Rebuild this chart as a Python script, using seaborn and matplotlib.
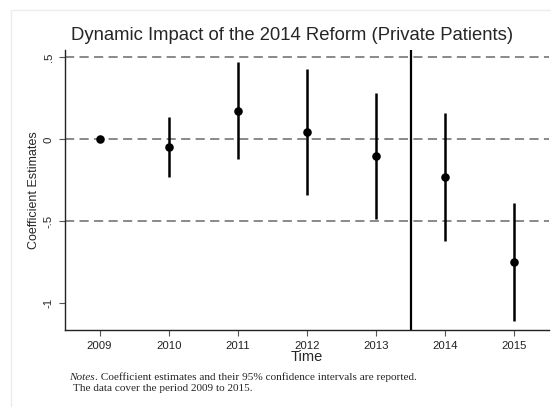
import matplotlib
matplotlib.use("Agg")
import matplotlib.pyplot as plt
from matplotlib.lines import Line2D
import seaborn as sns
import pandas as pd

# Event-study coefficients with 95% confidence bounds
years = [2009, 2010, 2011, 2012, 2013, 2014, 2015]
coef = [0.0, -0.045, 0.173, 0.046, -0.102, -0.228, -0.75]
ci_low = [0.0, -0.232, -0.12, -0.34, -0.488, -0.618, -1.106]
ci_high = [0.0, 0.138, 0.469, 0.427, 0.28, 0.159, -0.386]
ytick_vals = [-1, -0.5, 0, 0.5]
ytick_labels = ["-1", "-.5", "0", ".5"]
ref_lines = [-0.5, 0, 0.5]
reform_break = 2013.5

df = pd.DataFrame({"year": years, "coef": coef, "lo": ci_low, "hi": ci_high})

sns.set_style("white")
plt.rcParams["font.family"] = ["Liberation Sans", "DejaVu Sans"]

fig = plt.figure(figsize=(5.51, 4.07), dpi=100)
ax = fig.add_axes([65 / 551, 1 - 330 / 407, (549 - 65) / 551, (330 - 50) / 407])

for v in ref_lines:
    ax.axhline(v, color="#6a6a6a", lw=1.1, ls=(0, (6, 3.5)), zorder=1)

ax.vlines(df["year"], df["lo"], df["hi"], color="black", lw=1.8, zorder=2)
sns.scatterplot(data=df, x="year", y="coef", ax=ax, color="black", s=38,
                edgecolor="black", linewidth=0, zorder=3, legend=False)
ax.axvline(reform_break, color="black", lw=1.6, zorder=2)

ax.set_xlim(2008.5, 2015.5)
ax.set_ylim(-1.163, 0.545)
ax.set_xticks(years)
ax.set_xticklabels([str(y) for y in years], fontsize=8.2, color="#222222")
ax.set_yticks(ytick_vals)
ax.set_yticklabels(ytick_labels, fontsize=8.2, rotation=90, va="center",
                   color="#222222")
ax.tick_params(axis="both", which="both", direction="out", length=4, width=0.8,
               color="#555555", pad=4, left=True, bottom=True)

for side in ["top", "right"]:
    ax.spines[side].set_visible(False)
for side in ["left", "bottom"]:
    ax.spines[side].set_color("#222222")
    ax.spines[side].set_linewidth(1.0)

ax.set_xlabel("Time", fontsize=10.5, labelpad=-1)
ax.set_ylabel("Coefficient Estimates", fontsize=9, labelpad=3)
fig.text(292 / 551, 1 - 36 / 407,
         "Dynamic Impact of the 2014 Reform (Private Patients)",
         fontsize=13.3, ha="center", va="center")

# Footnote in serif type
serif = ["Liberation Serif", "DejaVu Serif"]
t = fig.text(69 / 551, 1 - 377 / 407, "Notes", family=serif, style="italic",
             fontsize=8.1, va="center", ha="left")
fig.canvas.draw()
bb = t.get_window_extent()
fig.text(bb.x1 / fig.bbox.width, 1 - 377 / 407,
         ". Coefficient estimates and their 95% confidence intervals are reported.",
         family=serif, fontsize=8.1, va="center", ha="left")
fig.text(73 / 551, 1 - 388.5 / 407, "The data cover the period 2009 to 2015.",
         family=serif, fontsize=8.1, va="center", ha="left")

# Light page frame
fig.add_artist(Line2D([11 / 551, 11 / 551], [0, 1 - 10 / 407],
                      color="#e8eeee", lw=1, transform=fig.transFigure))
fig.add_artist(Line2D([11 / 551, 1], [1 - 10 / 407, 1 - 10 / 407],
                      color="#e8eeee", lw=1, transform=fig.transFigure))

fig.savefig("out.png", dpi=100)
